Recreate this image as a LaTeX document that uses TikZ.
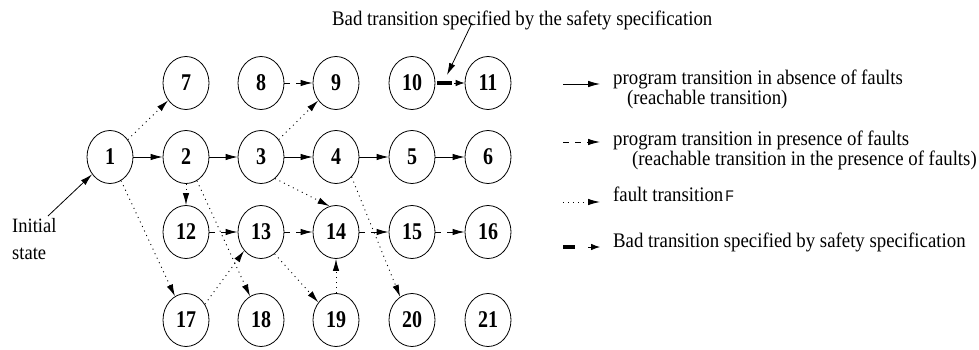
\documentclass[tikz,border=0pt]{standalone}
\usepackage{fontspec}
\usepackage{graphicx}
\setmainfont{Liberation Serif}
\newfontfamily\helv{Liberation Sans}
\usetikzlibrary{shapes.geometric,arrows.meta}
\newcommand\vst[1]{\scalebox{1}[1.1]{#1}}
\newcommand\vsd[1]{\scalebox{1}[1.2]{#1}}
\begin{document}
\begin{tikzpicture}[x=1pt,y=-1pt,
 st/.style={ellipse,draw,line width=0.8pt,minimum width=46pt,minimum height=53pt,inner sep=0pt,font=\fontsize{20}{20}\selectfont\bfseries},
 tipped/.style={-{Latex[length=12pt,width=6.5pt]}},
 prog/.style={tipped,line width=0.8pt},
 flt/.style={tipped,line width=0.9pt,dash pattern=on 6pt off 6pt},
 fault/.style={tipped,line width=0.9pt,dash pattern=on 1pt off 4pt},
 badbar/.style={line width=4pt},
 badhead/.style={-{Latex[length=9pt,width=6.5pt]},line width=0.8pt},
 lbl/.style={inner sep=0pt,anchor=base west,font=\fontsize{18.8}{20}\selectfont}
]
\useasboundingbox (0,0) rectangle (979,350);
% states
\node[st] (n1) at (110,157) {\vsd{1}};
\node[st] (n7) at (186,83) {\vsd{7}};
\node[st] (n8) at (261,83) {\vsd{8}};
\node[st] (n9) at (336,83) {\vsd{9}};
\node[st] (n10) at (412,83) {\vsd{10}};
\node[st] (n11) at (488,83) {\vsd{11}};
\node[st] (n2) at (186,157) {\vsd{2}};
\node[st] (n3) at (261,157) {\vsd{3}};
\node[st] (n4) at (336,157) {\vsd{4}};
\node[st] (n5) at (412,157) {\vsd{5}};
\node[st] (n6) at (488,157) {\vsd{6}};
\node[st] (n12) at (186,232) {\vsd{12}};
\node[st] (n13) at (261,232) {\vsd{13}};
\node[st] (n14) at (336,232) {\vsd{14}};
\node[st] (n15) at (412,232) {\vsd{15}};
\node[st] (n16) at (488,232) {\vsd{16}};
\node[st] (n17) at (186,320) {\vsd{17}};
\node[st] (n18) at (261,320) {\vsd{18}};
\node[st] (n19) at (336,320) {\vsd{19}};
\node[st] (n20) at (412,320) {\vsd{20}};
\node[st] (n21) at (488,320) {\vsd{21}};
% initial state
\node[lbl,font=\fontsize{18.5}{20}\selectfont] (init1) at (12,232) {\vst{Initial}};
\node[lbl,font=\fontsize{18.5}{20}\selectfont] (init2) at (12,259) {\vst{state}};
\coordinate (initfrom) at (48,216);
\draw[prog] (initfrom) -- (n1.-136);
% program transitions
\draw[prog] (n1) -- (n2);
\draw[prog] (n2) -- (n3);
\draw[prog] (n3) -- (n4);
\draw[prog] (n4) -- (n5);
\draw[prog] (n5) -- (n6);
% transitions in presence of faults
\draw[flt] (n8) -- (n9);
\draw[flt] (n12) -- (n13);
\draw[flt] (n13) -- (n14);
\draw[flt] (n14) -- (n15);
\draw[flt] (n15) -- (n16);
% fault transitions
\draw[fault] (n1) -- (n7);
\draw[fault] (n1) -- (n17);
\draw[fault] (n2) -- (n12);
\draw[fault] (n2) -- (n18);
\draw[fault] (n3) -- (n9);
\draw[fault] (n3.-57) -- (n14.104);
\draw[fault] (n4.-52) -- (n20.117);
\draw[fault] (n13.-58) -- (n19.135);
\draw[fault] (n17.40) -- (n13.-132);
\draw[fault] (n19) -- (n14);
% bad transition
\draw[badbar,shorten <=2pt,shorten >=13pt] (n10) -- (n11);
\draw[badhead,shorten <=19pt] (n10) -- (n11);
\node[lbl] (toplbl) at (332,26) {\vst{Bad transition specified by the safety specification}};
\coordinate (badfrom) at (472,23);
\coordinate (badto) at (447,75);
\draw[prog] (badfrom) -- (badto);
% legend
\coordinate (l1a) at (563,84); \coordinate (l1b) at (600,84);
\draw[prog] (l1a) -- (l1b);
\node[lbl] (t1a) at (613,85) {\vst{program transition in absence of faults}};
\node[lbl] (t1b) at (627,105) {\vst{(reachable transition)}};
\coordinate (l2a) at (563,142); \coordinate (l2b) at (600,142);
\draw[flt] (l2a) -- (l2b);
\node[lbl] (t2a) at (613,145) {\vst{program transition in presence of faults}};
\node[lbl] (t2b) at (632,165) {\vst{(reachable transition in the presence of faults)}};
\coordinate (l3a) at (563,202); \coordinate (l3b) at (600,202);
\draw[fault] (l3a) -- (l3b);
\node[lbl] (t3) at (613,201) {\vst{fault transition\hspace{2pt}{\helv\fontsize{14}{14}\selectfont F}}};
\coordinate (l4a) at (563,247); \coordinate (l4b) at (575,247);
\coordinate (l4c) at (588,247); \coordinate (l4d) at (600,247);
\draw[badbar] (l4a) -- (l4b);
\draw[badhead] (l4c) -- (l4d);
\node[lbl] (t4) at (613,247) {\vst{Bad transition specified by safety specification}};
\end{tikzpicture}
\end{document}
